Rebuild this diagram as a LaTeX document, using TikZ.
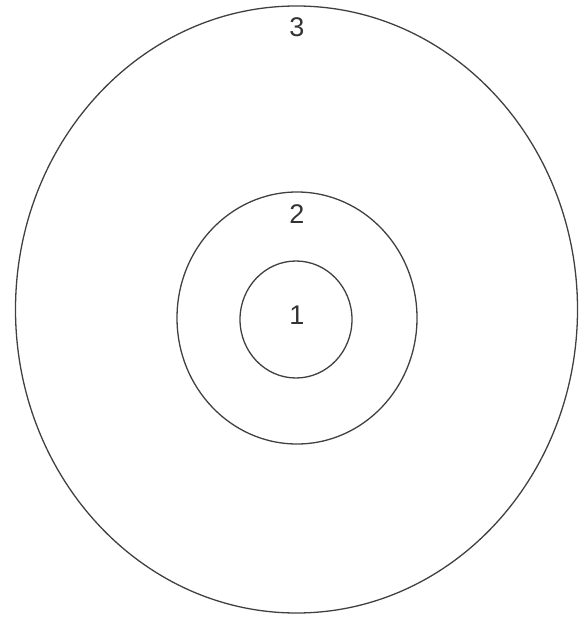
\documentclass[tikz,border=0pt]{standalone}
\usepackage{fontspec}
\setmainfont{Liberation Sans}
\usetikzlibrary{shapes.geometric}
\begin{document}
\begin{tikzpicture}[x=1pt,y=-1pt,
  ring/.style={ellipse, draw=black!75, line width=1.3pt, inner sep=0pt},
  lbl/.style={font=\fontsize{27}{30}\selectfont, text=black!80, inner sep=0pt}]
\useasboundingbox (0,0) rectangle (582,617);
\node[ring, minimum width=562pt, minimum height=607pt] (outer) at (296.5,309.5) {};
\node[ring, minimum width=240pt, minimum height=252pt] (middle) at (297,318) {};
\node[ring, minimum width=112pt, minimum height=117pt] (inner) at (296,319.5) {};
\node[lbl] (l3) at (297,27) {3};
\node[lbl] (l2) at (297,214) {2};
\node[lbl] (l1) at (297,315) {1};
\end{tikzpicture}
\end{document}
